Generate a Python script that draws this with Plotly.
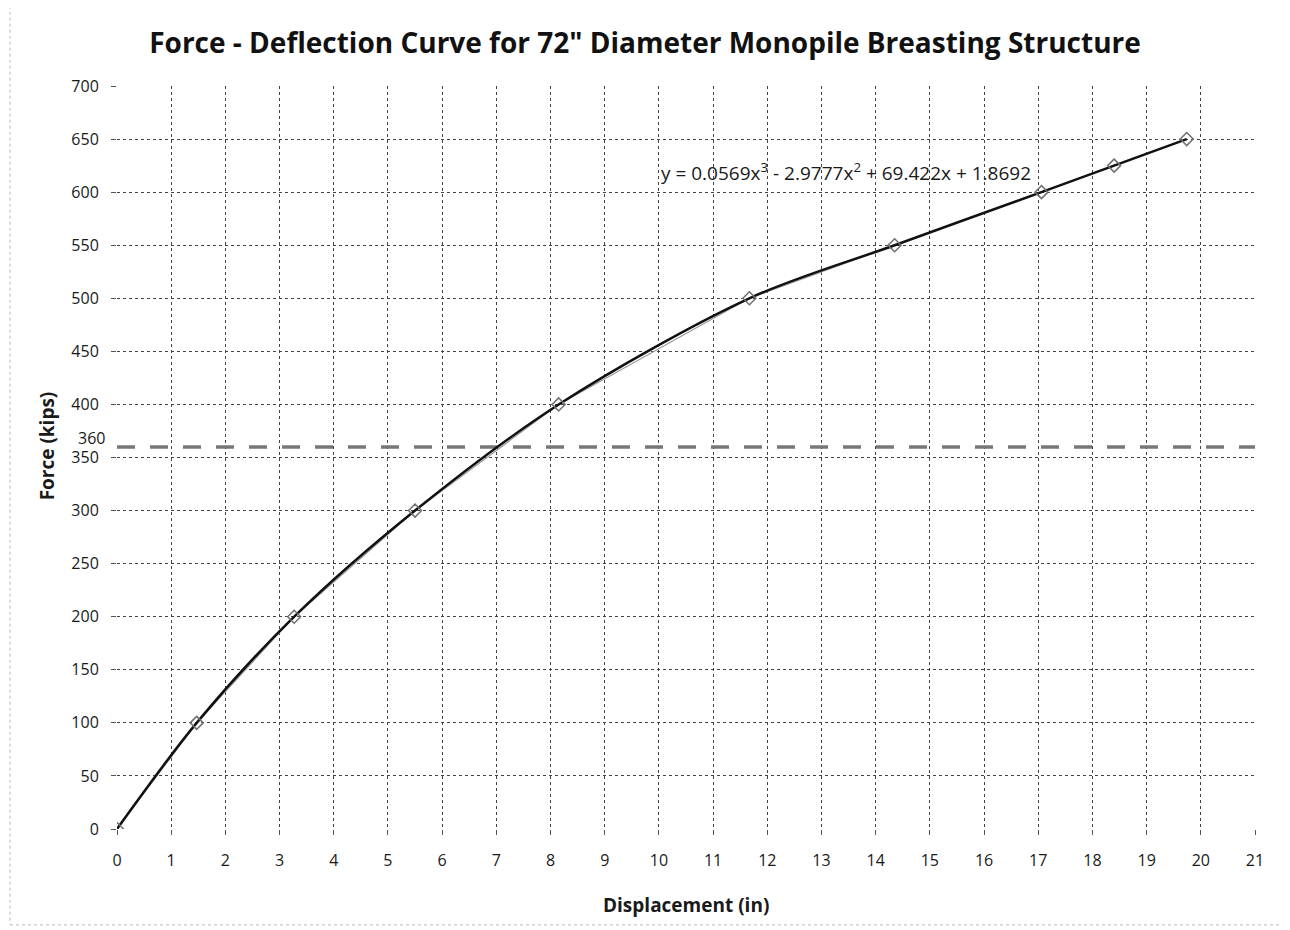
import plotly.graph_objects as go

# Data
displacement = [0, 1.47, 3.27, 5.5, 8.15, 11.67, 14.35, 17.06, 18.4, 19.74]
force = [0, 100, 200, 300, 400, 500, 550, 600, 625, 650]
limit_force = 360
limit_x = [0, 21]
x_ticks = list(range(0, 22))
y_ticks = list(range(0, 701, 50))
equation = "y = 0.0569x<sup>3</sup> - 2.9777x<sup>2</sup> + 69.422x + 1.8692"

FONT = "Open Sans"
TXT = "#1a1a1a"

fig = go.Figure()

fig.add_trace(go.Scatter(
    x=limit_x, y=[limit_force, limit_force], mode="lines",
    line=dict(color="#777777", width=3.5, dash="18px,15px"),
    showlegend=False, hoverinfo="skip"))

# data series (thin) with markers
fig.add_trace(go.Scatter(
    x=displacement, y=force, mode="lines",
    line=dict(color="#9a9a9a", width=1.2),
    showlegend=False))

# smooth trend curve
fig.add_trace(go.Scatter(
    x=displacement, y=force, mode="lines",
    line=dict(color="#111111", width=2.5, shape="spline", smoothing=0.9),
    showlegend=False))

fig.add_trace(go.Scatter(
    x=displacement, y=force, mode="markers",
    marker=dict(symbol="diamond-open", size=10, color="#707070", line=dict(width=1.5)),
    showlegend=False))

fig.add_annotation(
    x=13.45, y=619, xref="x", yref="y", text=equation, showarrow=False,
    font=dict(family=FONT, size=19, color=TXT))
fig.add_annotation(
    x=-0.0088, y=368.4, xref="paper", yref="y", text=str(limit_force),
    showarrow=False, xanchor="right", yanchor="middle",
    font=dict(family=FONT, size=16, color=TXT))
fig.add_annotation(
    x=0.5, y=-0.102, xref="paper", yref="paper", text="<b>Displacement (in)</b>",
    showarrow=False, xanchor="center", yanchor="middle",
    font=dict(family=FONT, size=19, color=TXT))
fig.add_annotation(
    x=-0.0615, y=0.515, xref="paper", yref="paper", text="<b>Force (kips)</b>",
    showarrow=False, xanchor="center", yanchor="middle", textangle=-90,
    font=dict(family=FONT, size=19, color=TXT))

fig.add_shape(type="rect", xref="paper", yref="paper",
              x0=-0.094, x1=1.0246, y0=-0.129, y1=1.106,
              line=dict(color="#bbbbbb", width=1, dash="dot"))

axis_common = dict(showgrid=True, gridcolor="#444444", griddash="dot", gridwidth=1,
                   zeroline=False, showline=False, ticks="outside", ticklen=5,
                   tickcolor="#555555",
                   tickfont=dict(family=FONT, size=16, color=TXT))

fig.update_layout(
    width=1290, height=930,
    margin=dict(l=109, r=43, t=78, b=109),
    paper_bgcolor="white", plot_bgcolor="white",
    title=dict(text="<b>Force - Deflection Curve for 72\" Diameter Monopile Breasting Structure</b>",
               x=0.4938, xanchor="center", y=0.962, yanchor="middle",
               font=dict(family=FONT, size=28, color="#111111")),
    xaxis=dict(range=[0, 21], tickvals=x_ticks, ticklabelstandoff=12, **axis_common),
    yaxis=dict(range=[0, 700], tickvals=y_ticks, ticklabelstandoff=9, **axis_common),
)

fig.write_html("out.html")
